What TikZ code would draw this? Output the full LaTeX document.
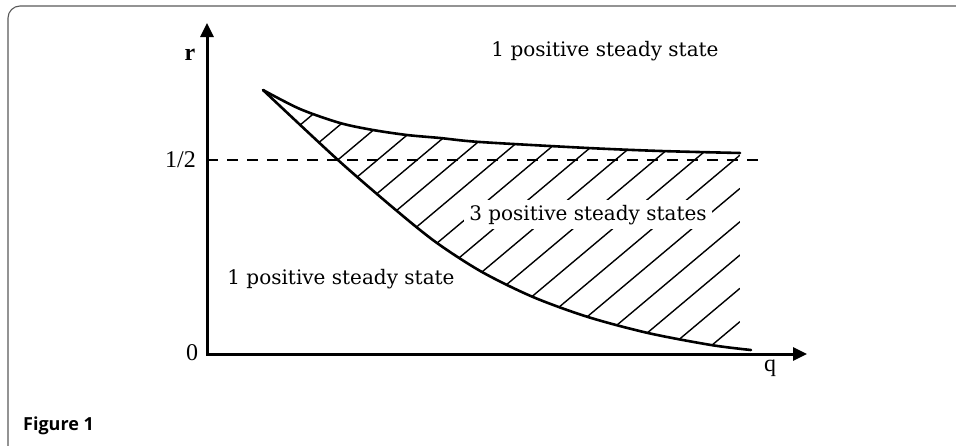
\documentclass[tikz,border=0pt]{standalone}
\usepackage{fontspec}
\setmainfont{Liberation Serif}
\newfontfamily\regionfamily{DejaVu Serif}
\newfontfamily\captionfamily{Open Sans}
\usetikzlibrary{arrows.meta}

\newcommand{\regionfont}{\regionfamily\fontsize{20}{23}\selectfont}
\newcommand{\tickfont}{\fontsize{24}{28}\selectfont}

\begin{document}
\begin{tikzpicture}[
    x=1pt, y=-1pt,
    frame/.style={draw=black!65, line width=1.1pt, rounded corners=12pt},
    axis/.style={line width=3pt, {Triangle[length=14pt,width=13pt]}-{Triangle[length=14pt,width=13pt]}},
    boundary/.style={line width=2.6pt, line cap=round},
    hatch/.style={line width=1.4pt},
    region/.style={font=\regionfont, anchor=base, inner sep=0pt},
    ticklabel/.style={font=\tickfont, anchor=base, inner sep=0pt}
]
\useasboundingbox (0,0) rectangle (956,445);

% Frame
\begin{scope}
\clip (0,0) rectangle (956,445);
\draw[frame] (8,6) rectangle (990,480);
\end{scope}
\node[font=\captionfamily\bfseries\fontsize{18}{21}\selectfont, anchor=base west, inner sep=0pt] (caption) at (23,430) {Figure 1};

% Axes
\coordinate (origin) at (207,354);
\coordinate (rtip) at (207,23);
\coordinate (qtip) at (807,354);
\coordinate (halfleft) at (207,160);
\coordinate (halfright) at (763,160);
\draw[axis] (rtip) -- (origin) -- (qtip);
\draw[line width=2.8pt, dash pattern=on 11pt off 9pt] (halfleft) -- (halfright);

\node[ticklabel, font=\tickfont\bfseries] (rlabel) at (190,60) {r};
\node[ticklabel, anchor=base east] (halflabel) at (196,167) {1/2};
\node[ticklabel] (zerolabel) at (192,360) {0};
\node[ticklabel] (qlabel) at (770,371) {q};

% Hatching
\begin{scope}
\clip plot[smooth] coordinates {(263,90) (300,109) (340,123) (373,130) (407,135) (440,138) (480,142) (588,148) (661,151) (740,153)} -- (740,400) -- (263,400) -- cycle;
\clip plot[smooth] coordinates {(263,90) (338,160) (397,211) (437,243) (482,272) (533,297) (588,317) (648,333) (711,345) (751,350)} -- (751,0) -- (263,0) -- cycle;
\foreach \k in {-14,...,3}
  \draw[hatch] (250,{633.3+33.3*\k}) -- (740,{221.7+33.3*\k});
\end{scope}

% Boundaries
\draw[boundary] plot[smooth] coordinates {(263,90) (300,109) (340,123) (373,130) (407,135) (440,138) (480,142) (588,148) (661,151) (740,153)};
\draw[boundary] plot[smooth] coordinates {(263,90) (338,160) (397,211) (437,243) (482,272) (533,297) (588,317) (648,333) (711,345) (751,350)};

% Regions
\node[region] (upperone) at (605,56.5) {1 positive steady state};
\node[region, fill=white, inner sep=5pt] (middlethree) at (588,220) {3 positive steady states};
\node[region] (lowerone) at (341,284) {1 positive steady state};

\end{tikzpicture}
\end{document}
